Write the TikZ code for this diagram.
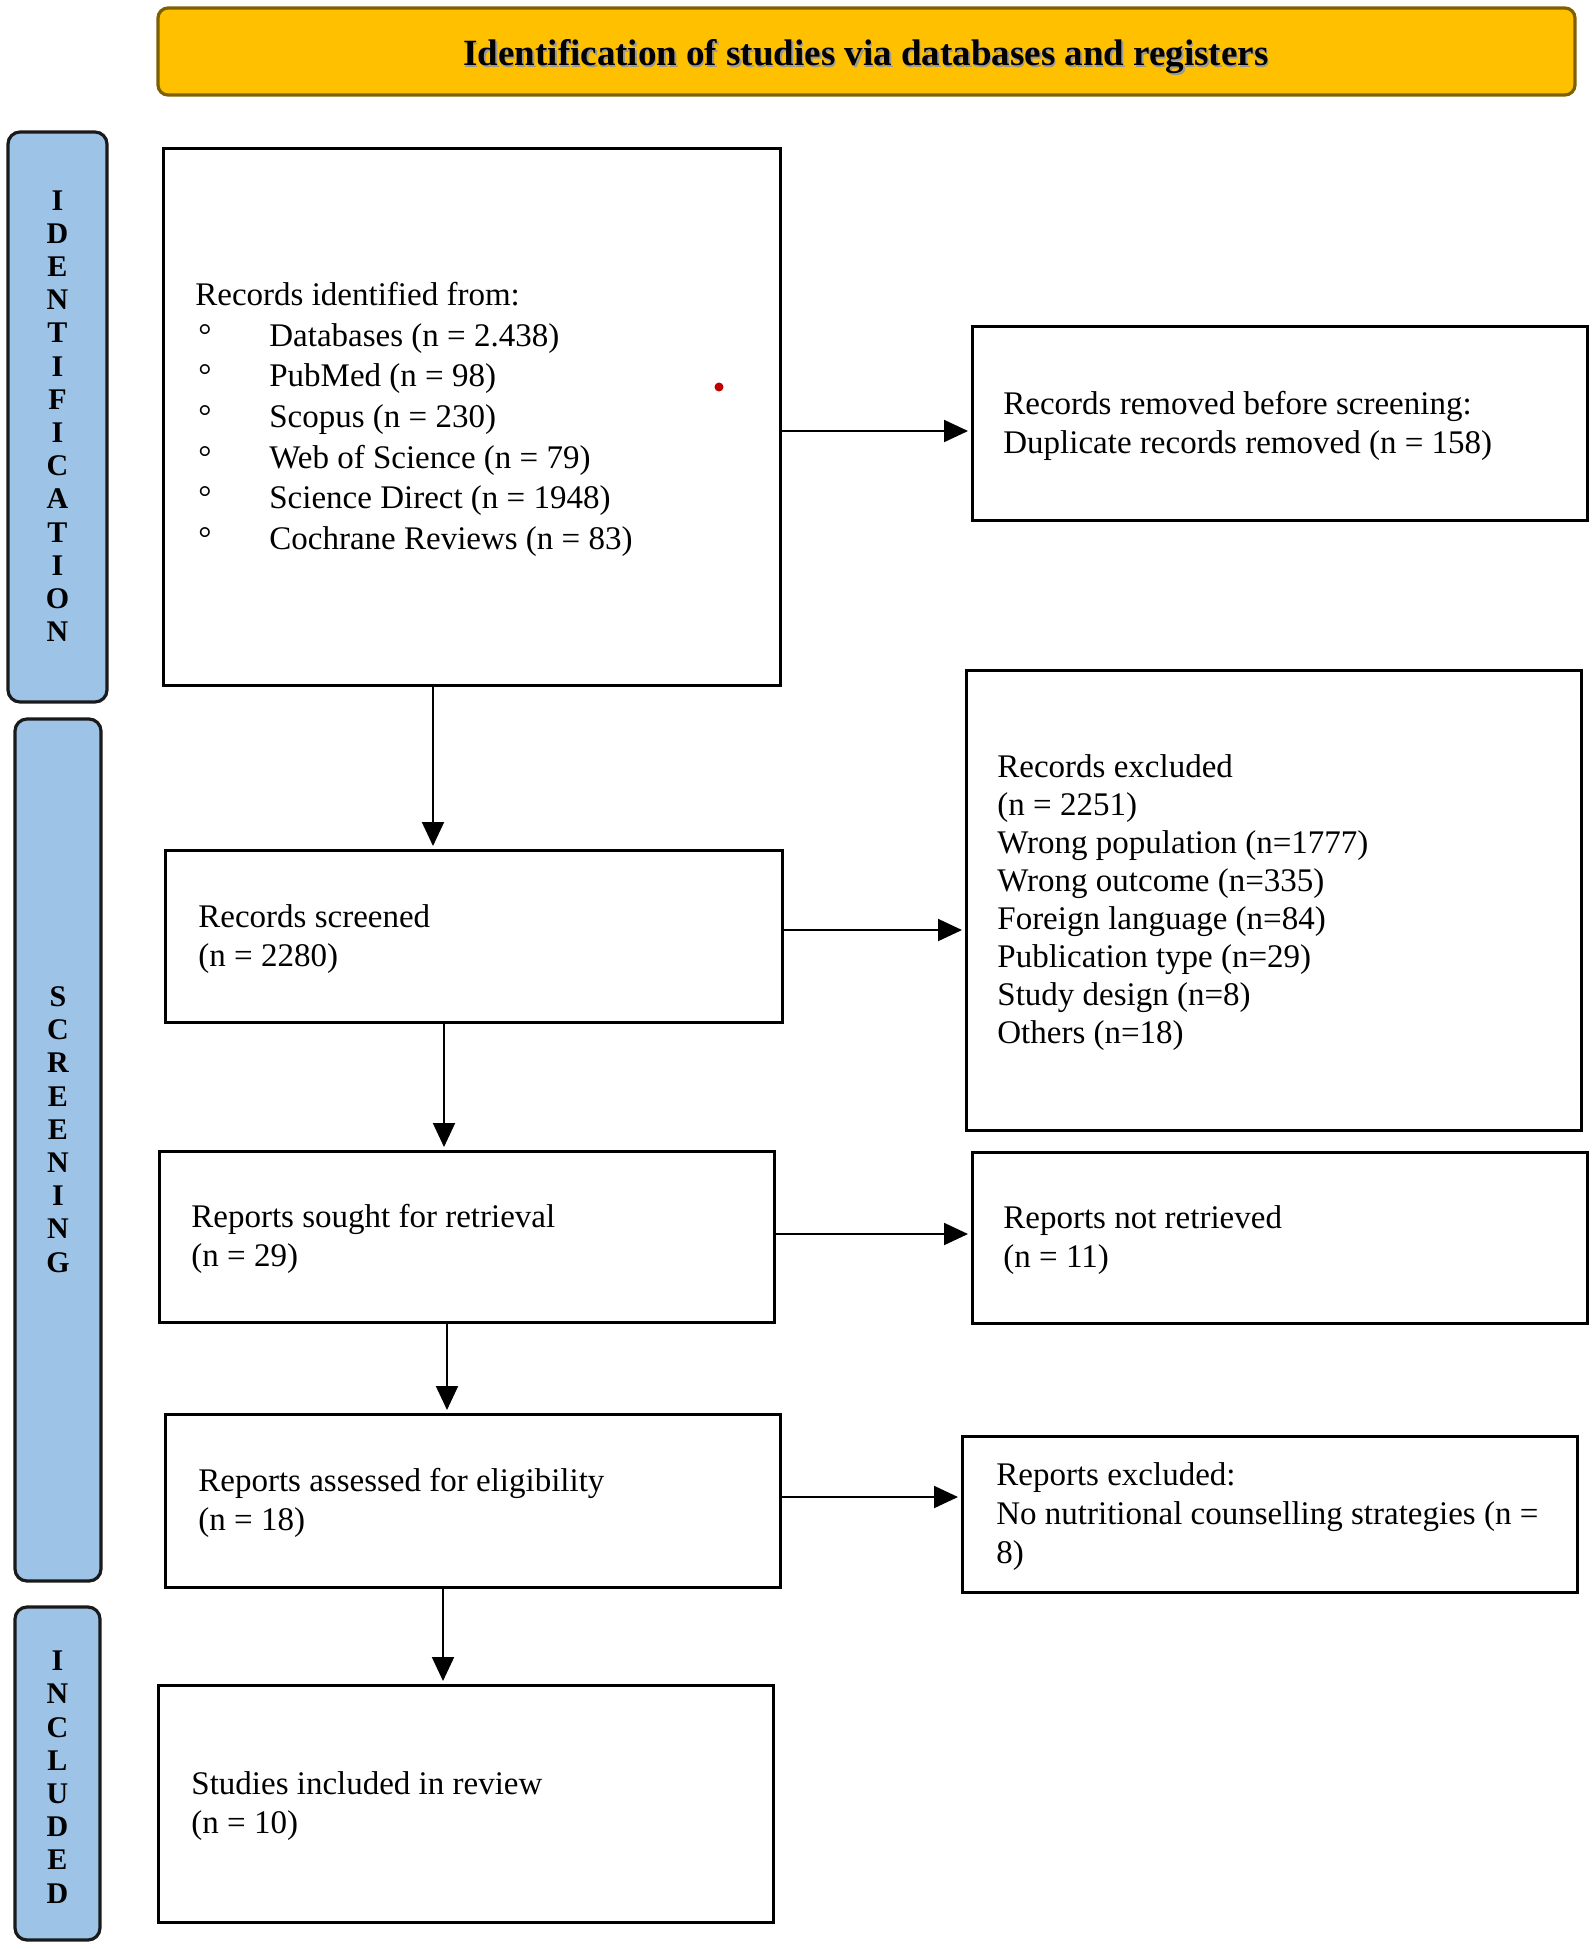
\documentclass[tikz,border=0pt]{standalone}
\usepackage{fontspec}
\setmainfont{Liberation Serif}
\usetikzlibrary{arrows.meta}
\definecolor{bannerfill}{HTML}{FFC000}
\definecolor{banneredge}{HTML}{7F6000}
\definecolor{sideblue}{HTML}{9DC3E6}
\definecolor{sideedge}{HTML}{1A1A1A}
\definecolor{dotred}{HTML}{C00000}
\newcommand\blt{\makebox[37pt][l]{\hspace{1.5pt}°}}
\begin{document}
\begin{tikzpicture}[x=0.5pt,y=-0.5pt,
  flowbox/.style={draw=black, line width=1.5pt, fill=white, anchor=north west, outer sep=0pt, inner sep=0pt},
  boxtxt/.style={anchor=west, align=left, inner sep=0pt, yshift=-1.4pt, font=\fontsize{16.5}{19.5}\selectfont},
  arr/.style={line width=1pt, shorten >=2pt, -{Triangle[length=12pt,width=11pt]}},
  sidebar/.style={draw=sideedge, fill=sideblue, line width=1.6pt, rounded corners=6pt},
  sidetxt/.style={align=center, inner sep=0pt, font=\bfseries\fontsize{15}{16.6}\selectfont},
]
\useasboundingbox (0,0) rectangle (1595,1949);

% banner
\draw[draw=banneredge, fill=bannerfill, line width=1.6pt, rounded corners=5pt] (158,8) rectangle (1575,95);
\node[font=\bfseries\fontsize{18.5}{20}\selectfont, text=black!40, inner sep=0pt] (titleshadow) at (867.5,58.5) {Identification of studies via databases and registers};
\node[font=\bfseries\fontsize{18.5}{20}\selectfont, inner sep=0pt] (title) at (866,57) {Identification of studies via databases and registers};

% side bars
\draw[sidebar] (8,132) rectangle (107,702);
\draw[sidebar] (15,719) rectangle (101,1581);
\draw[sidebar] (15,1607) rectangle (100,1940);
\node[sidetxt] (identlbl) at (57.5,416) {I\\D\\E\\N\\T\\I\\F\\I\\C\\A\\T\\I\\O\\N};
\node[sidetxt] (screenlbl) at (58,1129.5) {S\\C\\R\\E\\E\\N\\I\\N\\G};
\node[sidetxt] (inclbl) at (57.5,1777) {I\\N\\C\\L\\U\\D\\E\\D};

% boxes
\node[flowbox, minimum width=308.5pt, minimum height=268.5pt] (rec) at (163,148) {};
\node[flowbox, minimum width=307.5pt, minimum height=97pt] (rem) at (972,326) {};
\node[flowbox, minimum width=308.5pt, minimum height=86pt] (scr) at (165,850) {};
\node[flowbox, minimum width=307.5pt, minimum height=230pt] (exc) at (966,670) {};
\node[flowbox, minimum width=307.5pt, minimum height=85.5pt] (sou) at (159,1151) {};
\node[flowbox, minimum width=307.5pt, minimum height=85.5pt] (nre) at (972,1152) {};
\node[flowbox, minimum width=307.5pt, minimum height=86.5pt] (ass) at (165,1414) {};
\node[flowbox, minimum width=307.5pt, minimum height=78pt] (rex) at (962,1436) {};
\node[flowbox, minimum width=307.5pt, minimum height=118.5pt] (inc) at (158,1685) {};

% texts
\node[boxtxt, font=\fontsize{16.5}{20.3}\selectfont] (rectxt) at ([xshift=16pt]rec.west) {Records identified from:\\
\blt Databases (n = 2.438)\\
\blt PubMed (n = 98)\\
\blt Scopus (n = 230)\\
\blt Web of Science (n = 79)\\
\blt Science Direct (n = 1948)\\
\blt Cochrane Reviews (n = 83)};
\node[boxtxt] (remtxt) at ([xshift=15.5pt]rem.west) {Records removed before screening:\\Duplicate records removed (n = 158)};
\node[boxtxt] (scrtxt) at ([xshift=16.5pt]scr.west) {Records screened\\(n = 2280)};
\node[boxtxt, font=\fontsize{16.5}{19}\selectfont] (exctxt) at ([xshift=15.5pt]exc.west) {Records excluded\\(n = 2251)\\Wrong population (n=1777)\\Wrong outcome (n=335)\\Foreign language (n=84)\\Publication type (n=29)\\Study design (n=8)\\Others (n=18)};
\node[boxtxt] (soutxt) at ([xshift=16pt]sou.west) {Reports sought for retrieval\\(n = 29)};
\node[boxtxt] (nretxt) at ([xshift=15.5pt]nre.west) {Reports not retrieved\\(n = 11)};
\node[boxtxt] (asstxt) at ([xshift=16.5pt]ass.west) {Reports assessed for eligibility\\(n = 18)};
\node[boxtxt] (rextxt) at ([xshift=17pt]rex.west) {Reports excluded:\\No nutritional counselling strategies (n =\\8)};
\node[boxtxt] (inctxt) at ([xshift=16.5pt]inc.west) {Studies included in review\\(n = 10)};

% red dot
\node[circle, fill=dotred, inner sep=0pt, minimum size=4.5pt] (dot) at (719,387) {};

% arrows
\draw[arr] (rec.east |- 0,431) -- (rem.west |- 0,431);
\draw[arr] (scr.east |- 0,930) -- (exc.west |- 0,930);
\draw[arr] (sou.east |- 0,1234) -- (nre.west |- 0,1234);
\draw[arr] (ass.east |- 0,1497) -- (rex.west |- 0,1497);
\draw[arr] (rec.south -| 433,0) -- (scr.north -| 433,0);
\draw[arr] (scr.south -| 444,0) -- (sou.north -| 444,0);
\draw[arr] (sou.south -| 447,0) -- (ass.north -| 447,0);
\draw[arr] (ass.south -| 443,0) -- (inc.north -| 443,0);
\end{tikzpicture}
\end{document}
